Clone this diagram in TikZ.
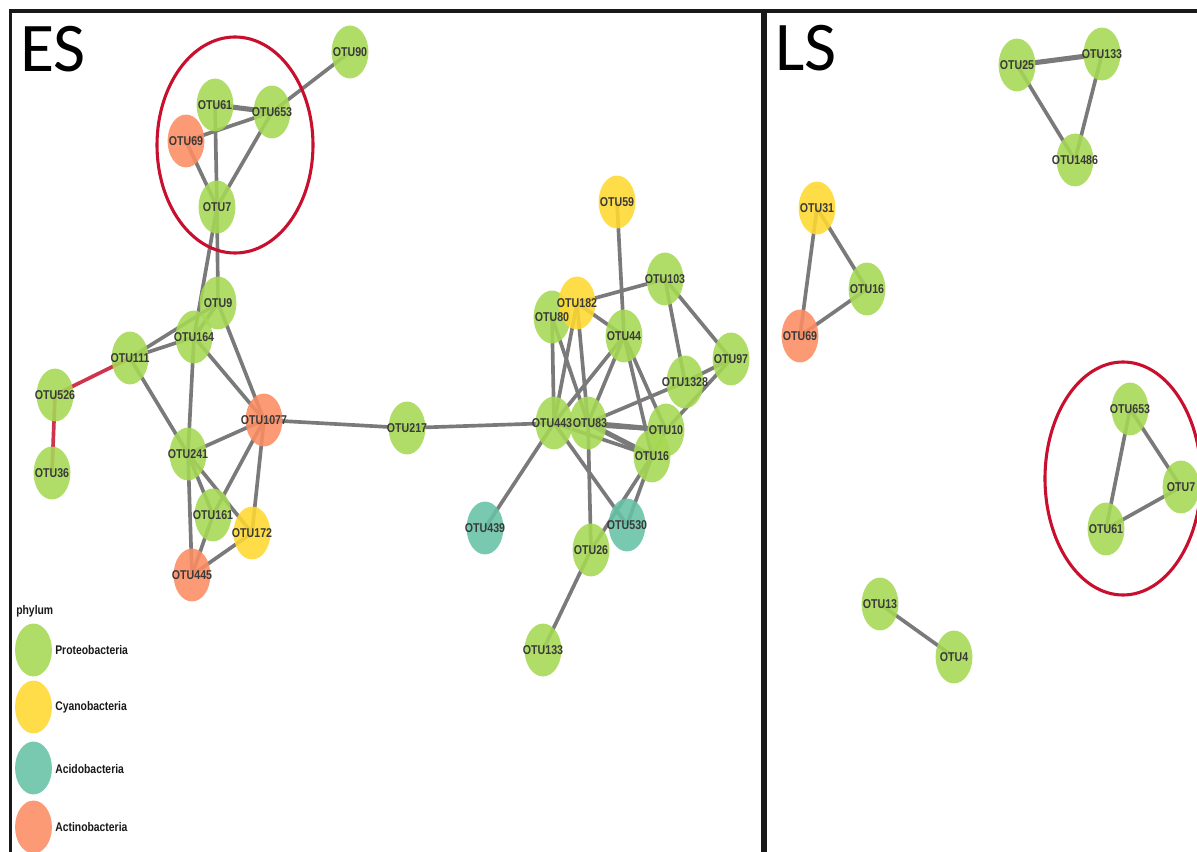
\documentclass[tikz,border=0pt]{standalone}
\usepackage{fontspec}
\newfontfamily\lab[FakeStretch=0.83]{Liberation Sans}
\newfontfamily\panelfont{Carlito}
\usetikzlibrary{shapes.geometric}
\pgfdeclarelayer{bg}
\pgfdeclarelayer{fg}
\pgfsetlayers{bg,main,fg}
\definecolor{proc}{HTML}{A6D854}
\definecolor{cyac}{HTML}{FFD92F}
\definecolor{acic}{HTML}{66C2A5}
\definecolor{actc}{HTML}{FC8D62}
\definecolor{edgec}{HTML}{7A7A7A}
\definecolor{redc}{HTML}{C8102E}
\definecolor{labc}{HTML}{3A3A3A}
\tikzset{
  otu/.style={ellipse, draw=none, minimum width=26.2pt, minimum height=37.6pt, inner sep=0pt, fill opacity=0.88},
  lbl/.style={font=\lab\bfseries\fontsize{9.1}{10}\selectfont, text=labc, inner sep=0pt},
  legtxt/.style={font=\lab\bfseries\fontsize{8.9}{10}\selectfont, text=black!90, inner sep=0pt, anchor=west},
  edge/.style={draw=edgec, line width=2.6pt},
  edgethick/.style={draw=edgec, line width=3.6pt},
  rededge/.style={draw=redc!85!white, line width=2.6pt},
  frame/.style={draw=black!90, line width=2.5pt},
  ring/.style={draw=redc, line width=2.2pt},
  paneltxt/.style={font=\panelfont\fontsize{49.6}{50}\selectfont, inner sep=0pt, anchor=base west}
}
% #1 name, #2 colour, #3 position, #4 text, #5 text shift
\newcommand\otunode[5][0]{%
  \node[otu, fill=#3] (#2) at (#4) {};
  \begin{pgfonlayer}{fg}\node[lbl, xshift=#1*0.025cm] (#2t) at (#2.center) {#5};\end{pgfonlayer}}
\begin{document}
\begin{tikzpicture}[x=0.025cm, y=-0.025cm]
\clip (0,0) rectangle (1197,852);
\begin{pgfonlayer}{bg}
\fill[white] (0,0) rectangle (1197,852);
\end{pgfonlayer}

% panels
\draw[frame] (10.5,900) -- (10.5,11) -- (763,11) -- (763,900);
\draw[frame] (765.5,900) -- (765.5,11) -- (1250,11);
\node[paneltxt] (es) at (20,72) {ES};
\node[paneltxt] (ls) at (775,71) {LS};

% ES nodes
\otunode{e90}{proc}{350,52}{OTU90}
\otunode{e61}{proc}{215,105}{OTU61}
\otunode{e653}{proc}{272,112}{OTU653}
\otunode{e69}{actc}{186,141}{OTU69}
\otunode{e7}{proc}{217,207}{OTU7}
\otunode{e9}{proc}{218,303}{OTU9}
\otunode{e164}{proc}{194,337}{OTU164}
\otunode{e111}{proc}{130,358}{OTU111}
\otunode{e526}{proc}{55,395}{OTU526}
\otunode{e36}{proc}{52,473}{OTU36}
\otunode{e1077}{actc}{264,420}{OTU1077}
\otunode{e241}{proc}{188,454}{OTU241}
\otunode{e161}{proc}{213,515}{OTU161}
\otunode{e172}{cyac}{252,533}{OTU172}
\otunode{e445}{actc}{192,575}{OTU445}
\otunode{e217}{proc}{407,428}{OTU217}
\otunode{e59}{cyac}{617,202}{OTU59}
\otunode{e103}{proc}{665,279}{OTU103}
\otunode{e80}{proc}{552,317}{OTU80}
\otunode{e182}{cyac}{577,303}{OTU182}
\otunode{e44}{proc}{624,336}{OTU44}
\otunode{e97}{proc}{731,359}{OTU97}
\otunode{e1328}{proc}{685,382}{OTU1328}
\otunode[-2]{e443}{proc}{554,423}{OTU443}
\otunode[2]{e83}{proc}{588,423}{OTU83}
\otunode{e10}{proc}{666,430}{OTU10}
\otunode{e16}{proc}{652,456}{OTU16}
\otunode{e439}{acic}{485,528}{OTU439}
\otunode{e530}{acic}{627,525}{OTU530}
\otunode{e26}{proc}{591,550}{OTU26}
\otunode{e133}{proc}{543,650}{OTU133}

% LS nodes
\otunode{l25}{proc}{1017,65}{OTU25}
\otunode{l133}{proc}{1102,54}{OTU133}
\otunode{l1486}{proc}{1075,160}{OTU1486}
\otunode{l31}{cyac}{817,208}{OTU31}
\otunode{l16}{proc}{867,289}{OTU16}
\otunode{l69}{actc}{800,336}{OTU69}
\otunode{l653}{proc}{1130,409}{OTU653}
\otunode{l7}{proc}{1181,487}{OTU7}
\otunode{l61}{proc}{1106,529}{OTU61}
\otunode{l13}{proc}{880,604}{OTU13}
\otunode{l4}{proc}{954,657}{OTU4}

% red rings
\draw[ring] (235,145) ellipse [x radius=78, y radius=108];
\draw[ring] (1123,478.5) ellipse [x radius=78, y radius=116.5];

% legend
\node[legtxt] (phy) at (16,611) {phylum};
\node[otu, fill=proc] (g1) at (33.5,650) {};
\node[otu, fill=cyac] (g2) at (33.5,707) {};
\node[otu, fill=acic] (g3) at (33.5,768) {};
\node[otu, fill=actc] (g4) at (33.5,827) {};
\node[legtxt] (g1t) at (55,650) {Proteobacteria};
\node[legtxt] (g2t) at (55,707) {Cyanobacteria};
\node[legtxt] (g3t) at (55,769) {Acidobacteria};
\node[legtxt] (g4t) at (55,827) {Actinobacteria};

% edges
\begin{pgfonlayer}{bg}
\foreach \a/\b in {e90/e653, e69/e653, e61/e7, e653/e7, e69/e7, e7/e9, e7/e164,
  e9/e164, e111/e164, e111/e9, e9/e1077, e164/e1077, e164/e241, e111/e241,
  e241/e1077, e1077/e217, e1077/e161, e1077/e172, e241/e445, e241/e161,
  e241/e172, e161/e445, e172/e445, e217/e443,
  e59/e44, e182/e103, e182/e44, e103/e1328, e103/e97, e97/e1328, e97/e10,
  e83/e1328, e443/e10, e443/e16, e44/e10, e44/e16, e44/e443, e44/e83,
  e80/e443, e80/e83, e182/e443, e182/e83, e443/e439, e443/e530, e83/e26,
  e16/e530, e16/e26, e26/e133, e10/e16, e443/e83,
  l25/l1486, l133/l1486, l31/l16, l31/l69, l16/l69, l653/l61, l653/l7,
  l61/l7, l13/l4}
  \draw[edge] (\a.center) -- (\b.center);
\foreach \a/\b in {e61/e653, e83/e10, e83/e16, l25/l133}
  \draw[edgethick] (\a.center) -- (\b.center);
\draw[rededge] (e111.center) -- (e526.center);
\draw[rededge] (e526.center) -- (e36.center);
\end{pgfonlayer}
\end{tikzpicture}
\end{document}
